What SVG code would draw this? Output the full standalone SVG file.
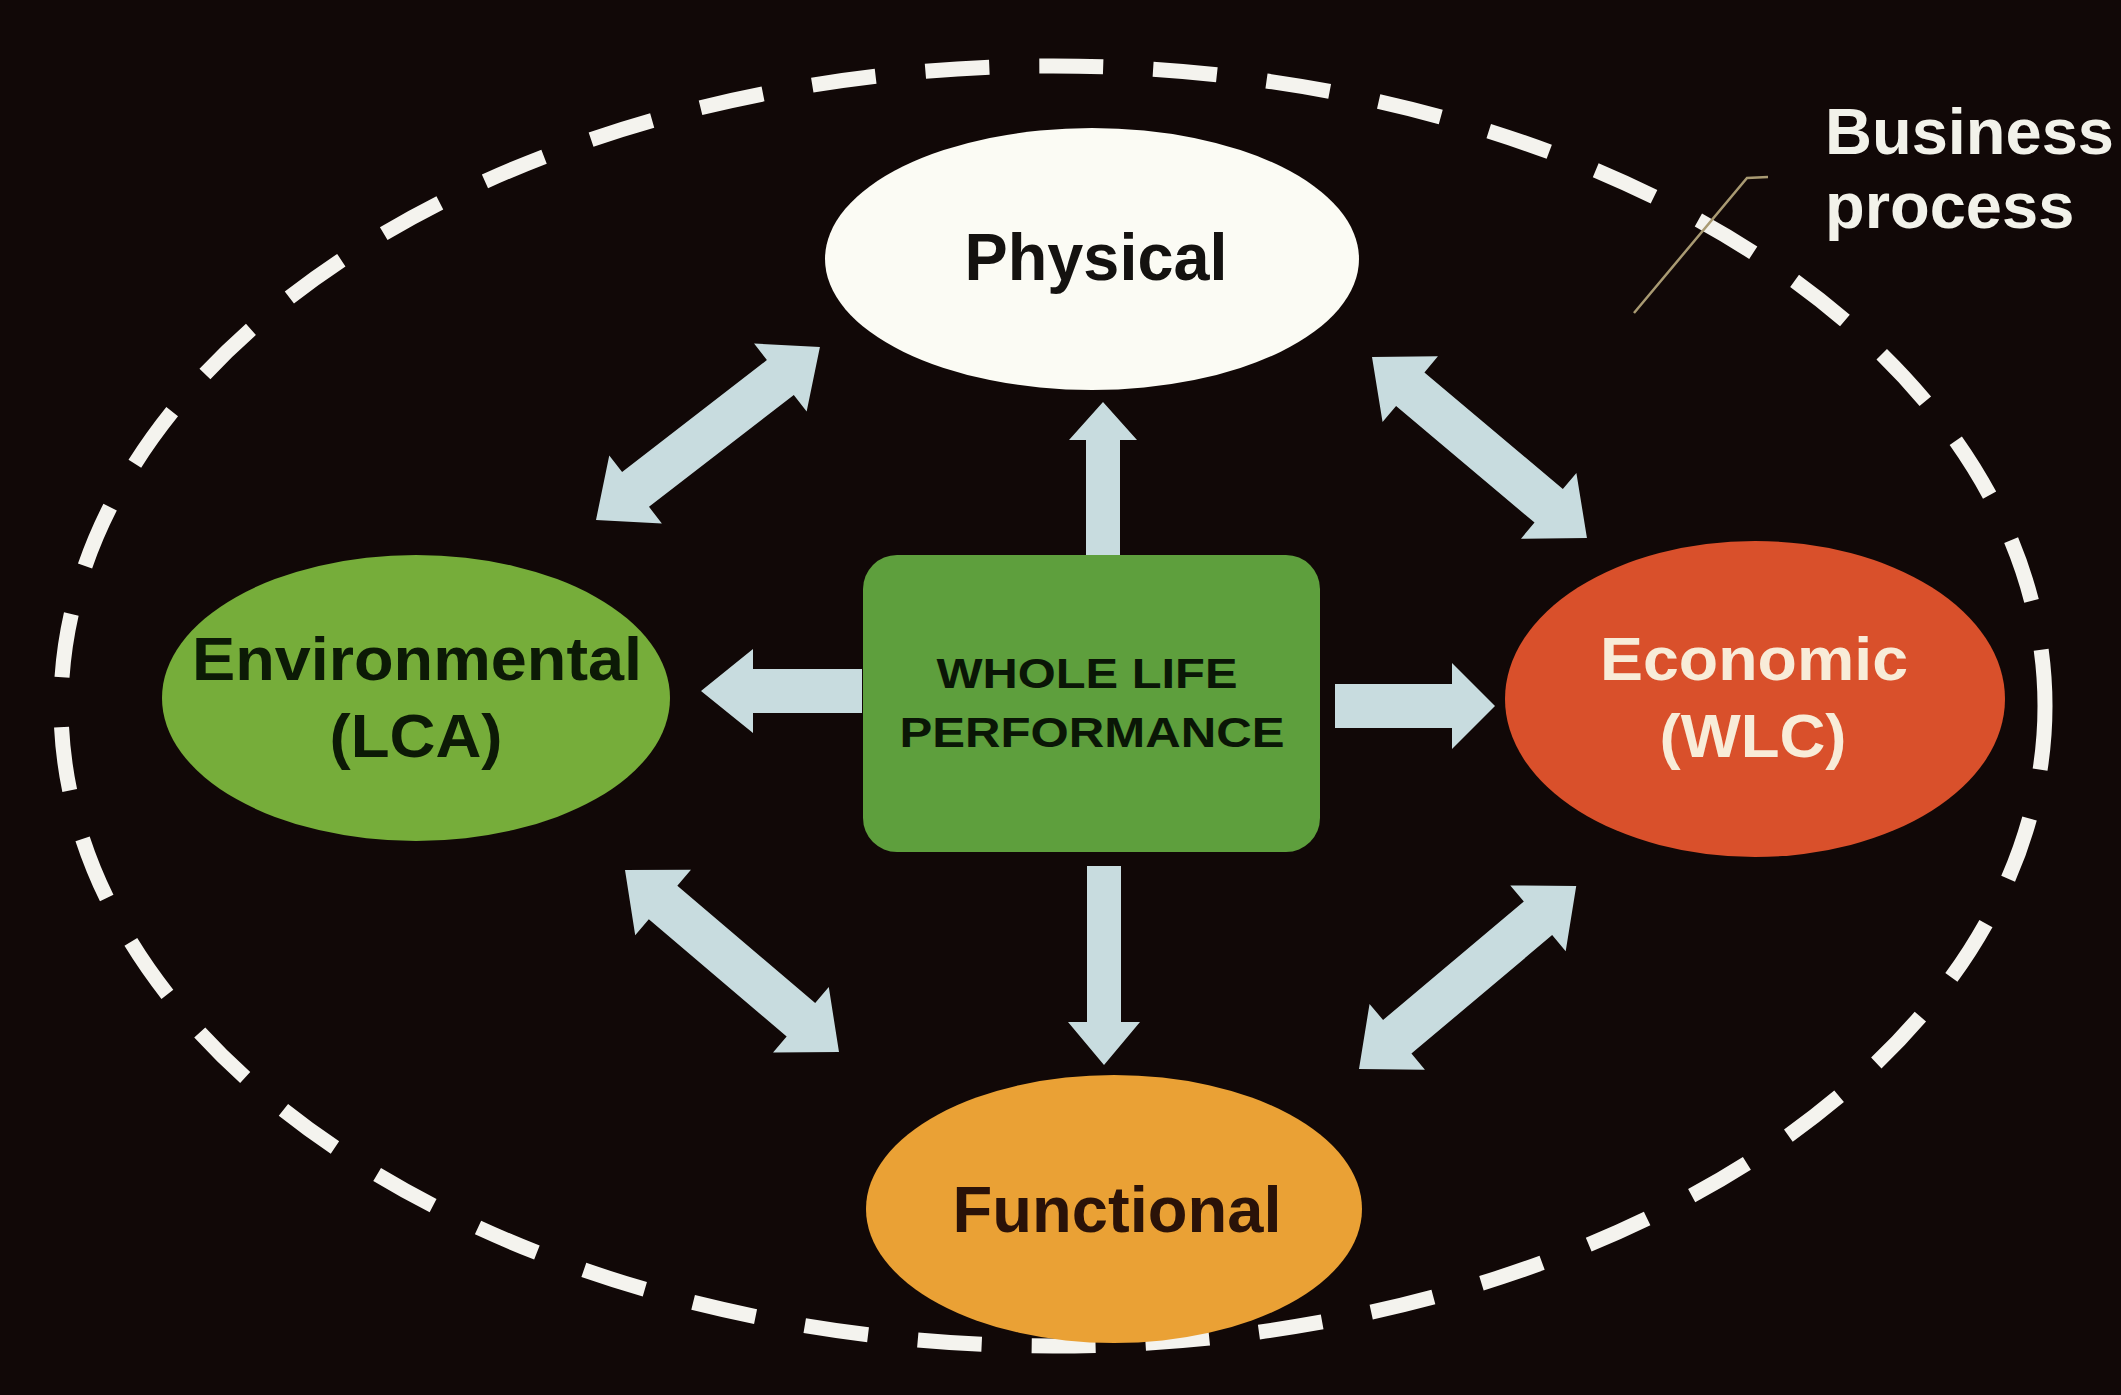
<svg xmlns="http://www.w3.org/2000/svg" width="2121" height="1395" viewBox="0 0 2121 1395">
<defs>
<style>
.lbl{font-family:"Liberation Sans",Arial,Helvetica,sans-serif;font-weight:bold;text-anchor:middle}
.arr{fill:#c8dcdf}
</style>
</defs>
<rect x="0" y="0" width="2121" height="1395" fill="#110807"/>
<ellipse id="boundary" cx="1053" cy="706" rx="992" ry="640" fill="none" stroke="#f4f3ee" stroke-width="15" stroke-dasharray="64 50"/>
<g id="business-process">
<polyline points="1634,313 1747,178 1768,177" fill="none" stroke="#a99a72" stroke-width="2.5"/>
<text x="1825" y="154" font-family="Liberation Sans, Arial, sans-serif" font-weight="bold" font-size="65" fill="#f2f2ea">Business</text>
<text x="1825" y="228" font-family="Liberation Sans, Arial, sans-serif" font-weight="bold" font-size="65" fill="#f2f2ea">process</text>
</g>
<g id="connectors">
<polygon class="arr" points="1103,402 1137,440 1120,440 1120,555 1086,555 1086,440 1069,440"/>
<polygon class="arr" points="1104,1065 1140,1022 1121,1022 1121,866 1087,866 1087,1022 1068,1022"/>
<polygon class="arr" points="701,691 753,649 753,669 862,669 862,713 753,713 753,733"/>
<polygon class="arr" points="1495,706 1452,663 1452,684 1335,684 1335,728 1452,728 1452,749"/>
<polygon class="arr" transform="translate(596,520) rotate(-37.7)" points="0,0 50,-43 50,-22 233,-22 233,-43 283,0 233,43 233,22 50,22 50,43"/>
<polygon class="arr" transform="translate(1372,357) rotate(40.1)" points="0,0 50,-43 50,-22 231,-22 231,-43 281,0 231,43 231,22 50,22 50,43"/>
<polygon class="arr" transform="translate(625,870) rotate(40.4)" points="0,0 50,-43 50,-22 231,-22 231,-43 281,0 231,43 231,22 50,22 50,43"/>
<polygon class="arr" transform="translate(1359,1069) rotate(-40.1)" points="0,0 50,-43 50,-22 234,-22 234,-43 284,0 234,43 234,22 50,22 50,43"/>
</g>
<g id="physical">
<ellipse cx="1092" cy="259" rx="267" ry="131" fill="#fbfbf4"/>
<text class="lbl" x="1096" y="280" font-size="66" fill="#141210" textLength="263" lengthAdjust="spacingAndGlyphs">Physical</text>
</g>
<g id="environmental">
<ellipse cx="416" cy="698" rx="254" ry="143" fill="#76ad3a"/>
<text class="lbl" x="417" y="680" font-size="62" fill="#0c1a06" textLength="450" lengthAdjust="spacingAndGlyphs">Environmental</text>
<text class="lbl" x="416" y="757" font-size="62" fill="#0c1a06" textLength="173" lengthAdjust="spacingAndGlyphs">(LCA)</text>
</g>
<g id="economic">
<ellipse cx="1755" cy="699" rx="250" ry="158" fill="#d9502b"/>
<text class="lbl" x="1754" y="680" font-size="62" fill="#f8ecd8" textLength="308" lengthAdjust="spacingAndGlyphs">Economic</text>
<text class="lbl" x="1753" y="757" font-size="62" fill="#f8ecd8" textLength="187" lengthAdjust="spacingAndGlyphs">(WLC)</text>
</g>
<g id="functional">
<ellipse cx="1114" cy="1209" rx="248" ry="134" fill="#eaa135"/>
<text class="lbl" x="1117" y="1232" font-size="65" fill="#2a1208" textLength="329" lengthAdjust="spacingAndGlyphs">Functional</text>
</g>
<g id="whole-life-performance">
<rect x="863" y="555" width="457" height="297" rx="34" ry="34" fill="#5e9f3d"/>
<text class="lbl" x="1087" y="688" font-size="42" fill="#0a1606" textLength="301" lengthAdjust="spacingAndGlyphs">WHOLE LIFE</text>
<text class="lbl" x="1092" y="747" font-size="42" fill="#0a1606" textLength="385" lengthAdjust="spacingAndGlyphs">PERFORMANCE</text>
</g>
</svg>
